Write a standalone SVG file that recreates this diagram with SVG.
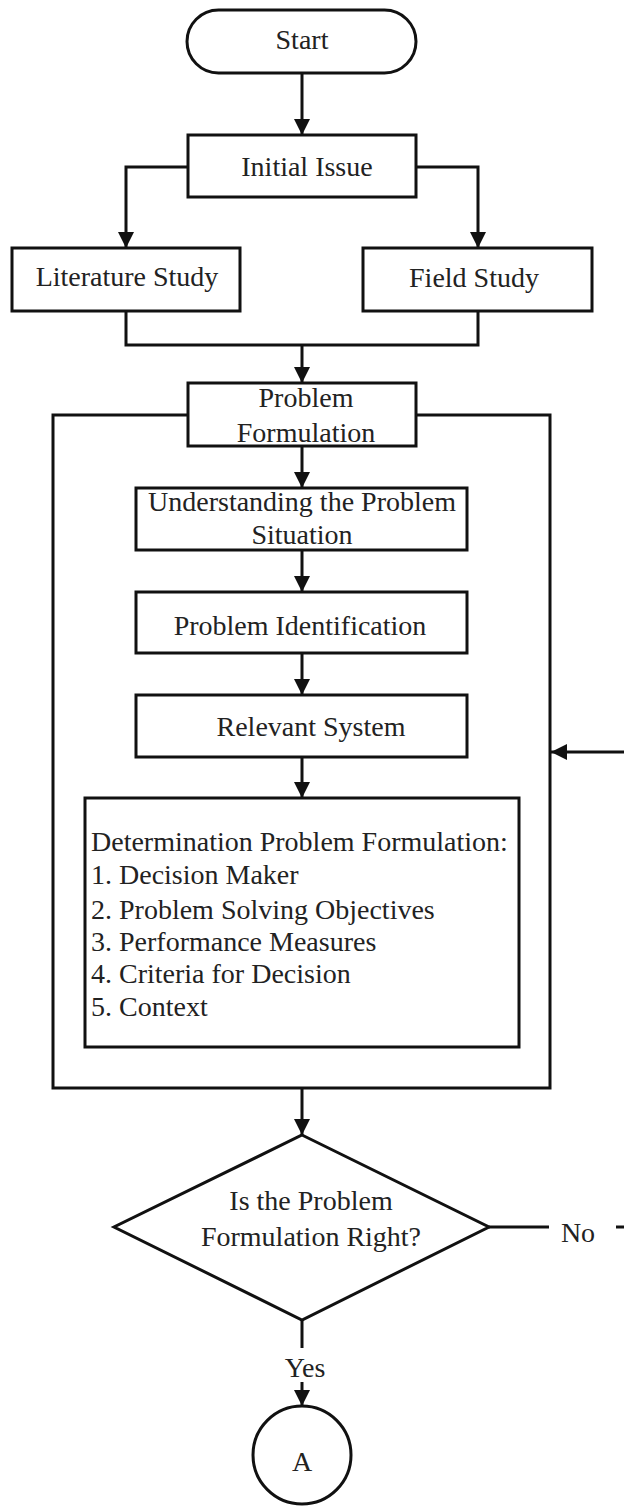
<svg xmlns="http://www.w3.org/2000/svg" width="624" height="1506" viewBox="0 0 624 1506">
<style>
.box{fill:#fff;stroke:#111;stroke-width:3}
.ln{fill:none;stroke:#111;stroke-width:3}
text{font-family:"Liberation Serif","Times New Roman",serif;font-size:28px;fill:#222}
.c{text-anchor:middle}
</style>
<defs>
<marker id="ah" markerUnits="userSpaceOnUse" markerWidth="16" markerHeight="16" refX="16" refY="8" orient="auto" viewBox="0 0 16 16">
<path d="M0,0 L16,8 L0,16 z" fill="#111"/>
</marker>
</defs>
<rect width="624" height="1506" fill="#fff"/>
<g id="outer"><rect class="box" x="53" y="415" width="497" height="673"/></g>
<g id="connectors">
<line class="ln" x1="302" y1="73" x2="302" y2="135" marker-end="url(#ah)"/>
<polyline class="ln" points="188,167 126,167 126,248" marker-end="url(#ah)"/>
<polyline class="ln" points="416,167 478,167 478,248" marker-end="url(#ah)"/>
<polyline class="ln" points="126,311 126,345 478,345 478,311"/>
<line class="ln" x1="302" y1="345" x2="302" y2="383" marker-end="url(#ah)"/>
<line class="ln" x1="302" y1="446" x2="302" y2="488" marker-end="url(#ah)"/>
<line class="ln" x1="302" y1="550" x2="302" y2="592" marker-end="url(#ah)"/>
<line class="ln" x1="302" y1="653" x2="302" y2="695" marker-end="url(#ah)"/>
<line class="ln" x1="302" y1="757" x2="302" y2="798" marker-end="url(#ah)"/>
<line class="ln" x1="302" y1="1088" x2="302" y2="1135" marker-end="url(#ah)"/>
<line class="ln" x1="302" y1="1320" x2="302" y2="1348"/>
<line class="ln" x1="302" y1="1382" x2="302" y2="1406" marker-end="url(#ah)"/>
<line class="ln" x1="489" y1="1227" x2="549" y2="1227"/>
<line class="ln" x1="616" y1="1227" x2="624" y2="1227"/>
<line class="ln" x1="624" y1="752" x2="551" y2="752" marker-end="url(#ah)"/>
<text class="c" x="578" y="1242">No</text>
<text class="c" x="305" y="1377">Yes</text>
</g>
<g id="start"><rect class="box" x="187" y="10" width="229" height="63" rx="31.5"/><text class="c" x="302" y="49">Start</text></g>
<g id="initial"><rect class="box" x="188" y="135" width="228" height="62"/><text class="c" x="307" y="176">Initial Issue</text></g>
<g id="literature"><rect class="box" x="12" y="248" width="228" height="63"/><text class="c" x="127" y="286">Literature Study</text></g>
<g id="field"><rect class="box" x="363" y="248" width="229" height="63"/><text class="c" x="474" y="287">Field Study</text></g>
<g id="problem-formulation"><rect class="box" x="188" y="383" width="228" height="63"/><text class="c" x="306" y="407">Problem</text><text class="c" x="306" y="442">Formulation</text></g>
<g id="understanding"><rect class="box" x="136" y="488" width="331" height="62"/><text class="c" x="302" y="511">Understanding the Problem</text><text class="c" x="302" y="544">Situation</text></g>
<g id="identification"><rect class="box" x="136" y="592" width="331" height="61"/><text class="c" x="300" y="635">Problem Identification</text></g>
<g id="relevant"><rect class="box" x="136" y="695" width="331" height="62"/><text class="c" x="311" y="736">Relevant System</text></g>
<g id="determination"><rect class="box" x="85" y="798" width="434" height="249"/>
<text x="91" y="851">Determination Problem Formulation:</text>
<text x="91" y="884">1. Decision Maker</text>
<text x="91" y="919">2. Problem Solving Objectives</text>
<text x="91" y="951">3. Performance Measures</text>
<text x="91" y="983">4. Criteria for Decision</text>
<text x="91" y="1016">5. Context</text>
</g>
<g id="decision"><polygon class="box" points="302,1135 489,1227 302,1320 114,1227"/><text class="c" x="311" y="1210">Is the Problem</text><text class="c" x="311" y="1246">Formulation Right?</text></g>
<g id="connector-a"><circle class="box" cx="302" cy="1455" r="49"/><text class="c" x="302" y="1471">A</text></g>
</svg>
